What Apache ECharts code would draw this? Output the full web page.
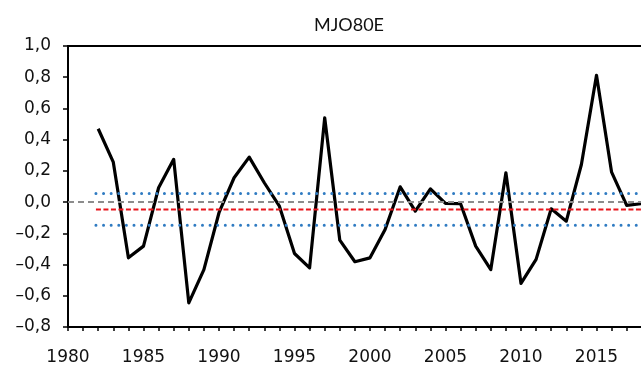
<!DOCTYPE html>
<html>
<head>
<meta charset="utf-8">
<script src="https://cdn.jsdelivr.net/npm/echarts@6/dist/echarts.min.js"></script>
<style>
html,body{margin:0;padding:0;background:#fff;}
#chart{width:641px;height:367px;}
</style>
</head>
<body>
<div id="chart"></div>
<script>
// ---- data ----
var title = 'MJO80E';
var years = [1982,1983,1984,1985,1986,1987,1988,1989,1990,1991,1992,1993,1994,1995,1996,1997,1998,1999,2000,2001,2002,2003,2004,2005,2006,2007,2008,2009,2010,2011,2012,2013,2014,2015,2016,2017,2018];
var mjo = [0.47,0.256,-0.357,-0.282,0.092,0.274,-0.645,-0.432,-0.068,0.156,0.288,0.124,-0.026,-0.329,-0.421,0.54,-0.244,-0.382,-0.357,-0.175,0.098,-0.058,0.085,-0.008,-0.01,-0.282,-0.432,0.188,-0.521,-0.367,-0.043,-0.122,0.241,0.812,0.192,-0.021,-0.01];
var zeroLevel = 0;
var meanLevel = -0.047;
var upperLevel = 0.055;
var lowerLevel = -0.148;
var refStart = 1981.85;
var xMin = 1980, xMax = 2020, xLabelStep = 5;
var yTicks = [-0.8,-0.6,-0.4,-0.2,0.0,0.2,0.4,0.6,0.8,1.0];

function fmtY(v){
  var s = Math.abs(v).toFixed(1).replace('.', ',');
  return (v < -1e-9 ? '\u2013' : '') + s;
}
function fmtX(v){
  return (Math.round(v) % xLabelStep === 0) ? String(Math.round(v)) : '';
}

var chart = echarts.init(document.getElementById('chart'), null, {renderer:'canvas'});
var fontFam = '"DejaVu Sans", sans-serif';
var option = {
  animation:false,
  backgroundColor:'#fff',
  title:{
    text:title, left:344, top:11, textAlign:'center',
    textStyle:{fontFamily:'Lato, "Open Sans", sans-serif', fontSize:18, fontWeight:'normal', color:'#111'}
  },
  grid:{left:68, top:46, bottom:40, right:-31, outerBoundsMode:'none', containLabel:false,
        show:true, borderColor:'#000', borderWidth:2, backgroundColor:'transparent'},
  xAxis:{
    type:'value', min:xMin, max:xMax, interval:1,
    axisLine:{show:true, onZero:false, lineStyle:{color:'#000', width:2}},
    axisTick:{show:true, length:4, lineStyle:{color:'#000', width:1.5}},
    splitLine:{show:false},
    axisLabel:{margin:22, fontFamily:fontFam, fontSize:17, color:'#111', formatter:fmtX}
  },
  yAxis:{
    type:'value', min:yTicks[0], max:yTicks[yTicks.length-1], interval:0.2,
    axisLine:{show:true, onZero:false, lineStyle:{color:'#000', width:2}},
    axisTick:{show:true, length:5, lineStyle:{color:'#000', width:1.5}},
    splitLine:{show:false},
    axisLabel:{margin:17, fontFamily:fontFam, fontSize:17, color:'#111', formatter:fmtY}
  },
  series:[
    {
      type:'line', data:years.map(function(y,i){return [y, mjo[i]];}),
      showSymbol:false, symbol:'none', z:2,
      lineStyle:{color:'#000', width:3.2, join:'round'}
    },
    {
      type:'line', data:[[xMin, zeroLevel],[xMax, zeroLevel]], symbol:'none', z:3,
      lineStyle:{color:'#8c8c8c', width:2, type:[6,4]}
    },
    {
      type:'line', data:[[refStart, meanLevel],[xMax, meanLevel]], symbol:'none', z:3,
      lineStyle:{color:'#e8141b', width:2, type:[5,2.5]}
    },
    {
      type:'line', data:[[refStart, upperLevel],[xMax, upperLevel]], symbol:'none', z:3,
      lineStyle:{color:'#2f7bc2', width:3, type:[0.01,7.6], cap:'round'}
    },
    {
      type:'line', data:[[refStart, lowerLevel],[xMax, lowerLevel]], symbol:'none', z:3,
      lineStyle:{color:'#2f7bc2', width:3, type:[0.01,7.6], cap:'round'}
    }
  ]
};
chart.setOption(option);
</script>
</body>
</html>
